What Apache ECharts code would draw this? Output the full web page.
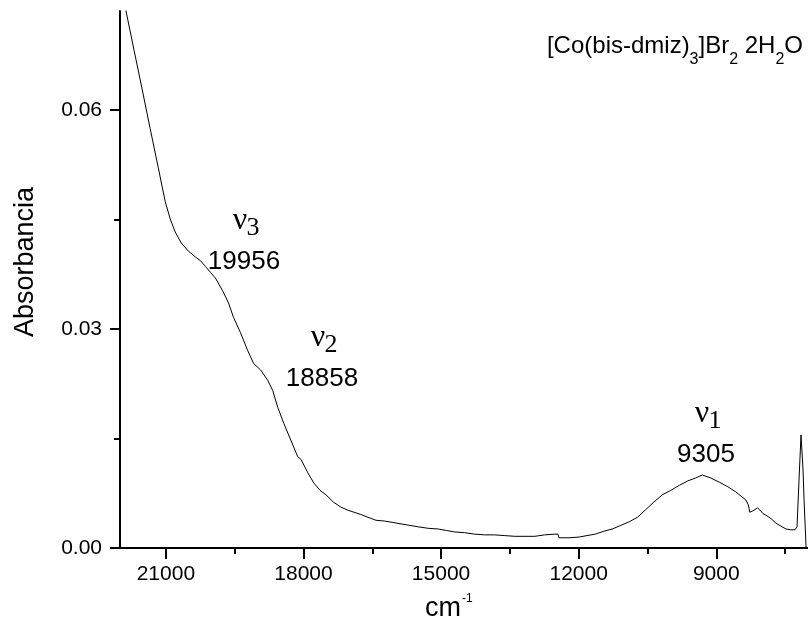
<!DOCTYPE html>
<html>
<head>
<meta charset="utf-8">
<script src="https://cdn.jsdelivr.net/npm/echarts@6/dist/echarts.min.js"></script>
<style>
  html, body { margin: 0; padding: 0; background: #ffffff; }
  #chart { width: 808px; height: 624px; }
</style>
</head>
<body>
<div id="chart"></div>
<script>
// Electronic absorption spectrum of [Co(bis-dmiz)3]Br2·2H2O
const wavenumber = [
  21912, 21869, 21693, 21518, 21343, 21168, 21015, 20905, 20796, 20664,
  20511, 20357, 20250, 20139, 20030, 19920, 19766, 19635, 19525, 19372,
  19219, 19087, 18934, 18781, 18671, 18562, 18430, 18277, 18124, 18050,
  17905, 17773, 17640, 17510, 17350, 17182, 17040, 16897, 16750, 16591,
  16420, 16240, 16050, 15868, 15680, 15496, 15280, 15058, 14880, 14707,
  14490, 14269, 14050, 13831, 13610, 13393, 13170, 12955, 12740, 12517,
  12452, 12430, 12320, 12211, 11992, 11820, 11641, 11450, 11269, 11080,
  10897, 10720, 10547, 10360, 10174, 9990, 9802, 9620, 9451, 9305,
  9120, 8926, 8750, 8576, 8460, 8357, 8300, 8269, 8200, 8159,
  8100, 8050, 7980, 7918, 7800, 7699, 7590, 7480, 7380, 7283,
  7239, 7196, 7152, 7108, 7086, 7042, 7000
];
const absorbance = [
  0.0765, 0.0736, 0.0682, 0.0629, 0.0575, 0.0522, 0.0475, 0.0451, 0.0433, 0.0418,
  0.0407, 0.0399, 0.0394, 0.0386, 0.0378, 0.0370, 0.0353, 0.0336, 0.0316, 0.0295,
  0.0271, 0.0253, 0.0244, 0.0230, 0.0216, 0.0193, 0.0171, 0.0148, 0.0125, 0.0121,
  0.0103, 0.0089, 0.0079, 0.0073, 0.0063, 0.0056, 0.0052, 0.0049, 0.0046, 0.0042,
  0.0038, 0.0037, 0.0035, 0.0033, 0.0031, 0.0029, 0.0027, 0.0026, 0.0024, 0.0022,
  0.0021, 0.0019, 0.0018, 0.0018, 0.0017, 0.0016, 0.0016, 0.0016, 0.0018, 0.0019,
  0.0019, 0.0014, 0.0014, 0.0014, 0.0015, 0.0017, 0.0019, 0.0023, 0.0026, 0.0031,
  0.0036, 0.0042, 0.0052, 0.0063, 0.0073, 0.0079, 0.0086, 0.0092, 0.0096, 0.0100,
  0.0096, 0.0090, 0.0084, 0.0077, 0.0071, 0.0066, 0.0059, 0.0049, 0.0051, 0.0052,
  0.0055, 0.0052, 0.0047, 0.0045, 0.0040, 0.0034, 0.0030, 0.0026, 0.0025, 0.0025,
  0.0029, 0.0093, 0.0155, 0.0107, 0.0066, 0.0001, 0.0000
];

// Axis ticks
const xMajorTicks = [21000, 18000, 15000, 12000, 9000];
const xMinorTicks = [19500, 16500, 13500, 10500, 7500];
const yMajorTicks = [0, 0.03, 0.06];
const yMinorTicks = [0.015, 0.045];

// Assigned d-d bands
const bandSymbols = ['\u03bd', '\u03bd', '\u03bd'];
const bandIndices = ['3', '2', '1'];
const bandMaxima = [19956, 18858, 9305];

// Compound name: [text, isSubscript]
const titleParts = [['[Co(bis-dmiz)', 0], ['3', 1], [']Br', 0], ['2', 1], [' 2H', 0], ['2', 1], ['O', 0]];
const xTitle = 'cm';
const xTitleSup = '-1';
const yTitle = 'Absorbancia';

// Pixel anchors for the band annotations (centre of the number)
const bandLabelAnchors = [[244, 262], [322, 379], [706, 455]];

const SANS = '"Liberation Sans", Arial, sans-serif';
const SERIF = '"Liberation Serif", "Times New Roman", serif';
const X_MIN = 7000, X_MAX = 22000, Y_MIN = 0, Y_MAX = 0.0736;

const chart = echarts.init(document.getElementById('chart'), null, { renderer: 'canvas' });

function textEl(x, y, text, font, align, extra) {
  return Object.assign({
    type: 'text', x: x, y: y,
    style: { text: text, font: font, fill: '#000',
             align: align, verticalAlign: 'middle', textAlign: align, textVerticalAlign: 'middle' }
  }, extra || {});
}

const graphics = [];
bandMaxima.forEach((wn, i) => {
  const [cx, cy] = bandLabelAnchors[i];
  graphics.push(textEl(cx, cy, String(wn), '26px ' + SANS, 'center'));
  graphics.push(textEl(cx - 4, cy - 41, bandSymbols[i], '32px ' + SERIF, 'center'));
  graphics.push(textEl(cx + 9, cy - 33.5, bandIndices[i], '26px ' + SERIF, 'center'));
});

// Compound name laid out piece by piece so the subscripts sit below the baseline
(function () {
  const mainFont = '24px ' + SANS;
  const subFont = '16px ' + SANS;
  const ctx = document.createElement('canvas').getContext('2d');
  const widths = titleParts.map(([t, sub]) => { ctx.font = sub ? subFont : mainFont; return ctx.measureText(t).width; });
  const total = widths.reduce((a, b) => a + b, 0);
  let x = 803 - total;
  titleParts.forEach(([t, sub], i) => {
    graphics.push(textEl(x, sub ? 60 : 46.7, t, sub ? subFont : mainFont, 'left'));
    x += widths[i];
  });
})();

// Axis titles
graphics.push(textEl(425, 609, xTitle, '27px ' + SANS, 'left'));
graphics.push(textEl(462, 599, xTitleSup, '12px ' + SANS, 'left'));
graphics.push(textEl(26, 262, yTitle, '27px ' + SANS, 'center', { rotation: Math.PI / 2 }));

const axisLine = { show: true, lineStyle: { color: '#000', width: 2 } };
const tickStyle = { color: '#000', width: 2 };

chart.setOption({
  animation: false,
  backgroundColor: '#ffffff',
  grid: { left: 120, right: 0, top: 11, bottom: 76, containLabel: false },
  xAxis: [
    {
      type: 'value', min: X_MIN, max: X_MAX, inverse: true, position: 'bottom',
      axisLine: axisLine,
      axisTick: { show: true, inside: false, length: 11, customValues: xMajorTicks, lineStyle: tickStyle },
      axisLabel: { show: true, customValues: xMajorTicks, margin: 16, color: '#000',
                   fontSize: 21, fontFamily: SANS, formatter: v => String(v) },
      splitLine: { show: false }
    },
    {
      type: 'value', min: X_MIN, max: X_MAX, inverse: true, position: 'bottom',
      axisLine: { show: false },
      axisTick: { show: true, inside: false, length: 6, customValues: xMinorTicks, lineStyle: tickStyle },
      axisLabel: { show: false },
      splitLine: { show: false }
    }
  ],
  yAxis: [
    {
      type: 'value', min: Y_MIN, max: Y_MAX, position: 'left',
      axisLine: axisLine,
      axisTick: { show: true, inside: false, length: 10, customValues: yMajorTicks, lineStyle: tickStyle },
      axisLabel: { show: true, customValues: yMajorTicks, margin: 18, color: '#000',
                   fontSize: 21, fontFamily: SANS, formatter: v => v.toFixed(2) },
      splitLine: { show: false }
    },
    {
      type: 'value', min: Y_MIN, max: Y_MAX, position: 'left',
      axisLine: { show: false },
      axisTick: { show: true, inside: false, length: 6, customValues: yMinorTicks, lineStyle: tickStyle },
      axisLabel: { show: false },
      splitLine: { show: false }
    }
  ],
  series: [
    {
      type: 'line',
      xAxisIndex: 0, yAxisIndex: 0,
      data: wavenumber.map((w, i) => [w, absorbance[i]]),
      showSymbol: false, symbol: 'none', smooth: false, clip: true,
      lineStyle: { color: '#000', width: 1 }
    }
  ],
  graphic: graphics
});
</script>
</body>
</html>
